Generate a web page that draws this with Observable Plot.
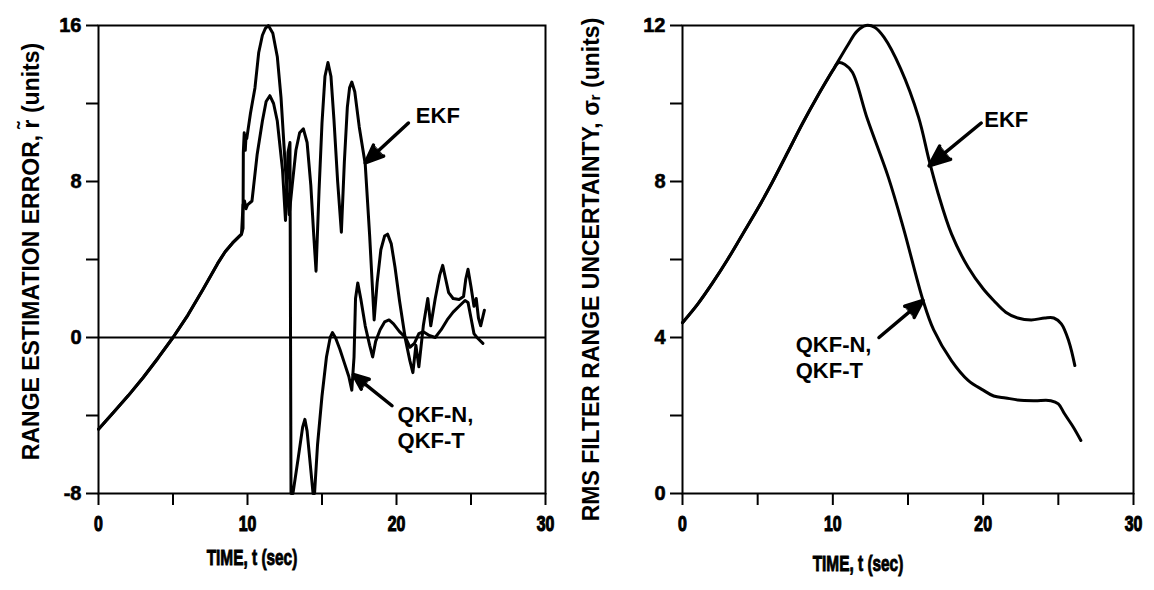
<!DOCTYPE html>
<html><head><meta charset="utf-8">
<script src="https://cdn.jsdelivr.net/npm/d3@7"></script>
<script src="https://cdn.jsdelivr.net/npm/@observablehq/plot@0.6"></script>
<style>
body{margin:0;background:#fff;}
#wrap{position:relative;width:1154px;height:590px;overflow:hidden;}
#left,#right{position:absolute;top:0;}
#left{left:0}#right{left:577px}
</style></head><body><div id="wrap"><div id="left"></div><div id="right"></div></div>
<script>
// ---- ticks ----
const timeTicks = [0, 5, 10, 15, 20, 25, 30];
const timeLabels = [0, 10, 20, 30];
const errTicks = [-8, -4, 0, 4, 8, 12, 16];
const errLabels = [-8, 0, 8, 16];
const rmsTicks = [0, 2, 4, 6, 8, 10, 12];
const rmsLabels = [0, 4, 8, 12];

// ---- left panel: range estimation error ----
const errSharedT = [0, 1, 2, 3, 4, 5, 6, 7, 8, 8.5, 9, 9.6];
const errSharedY = [-4.7, -3.85, -2.98, -2.05, -1.05, 0, 1.15, 2.45, 3.8, 4.4, 4.85, 5.3];
const errEkfT = [9.7, 9.72, 9.78, 9.85, 9.9, 9.95, 10.2, 10.5, 10.75, 11.0, 11.2, 11.4, 11.7, 12.0, 12.25, 12.55, 12.8,
  13.0, 13.25, 13.5, 13.75, 14.0, 14.25, 14.45, 14.6, 14.8, 15.0, 15.2, 15.4, 15.6, 15.8, 16.05, 16.3,
  16.5, 16.7, 16.85, 17.0, 17.2, 17.5, 17.9, 18.2, 18.5, 18.7, 18.95, 19.2, 19.4, 19.65, 19.9, 20.2, 20.6,
  20.9, 21.1, 21.3, 21.5, 21.8, 22.1, 22.3, 22.6, 22.9, 23.1, 23.3, 23.5, 23.8, 24.2, 24.5, 24.65, 24.8,
  25.0, 25.2, 25.35, 25.5, 25.65, 25.9];
const errEkfY = [5.6, 9.5, 10.5, 9.6, 10.3, 10.2, 11.5, 12.8, 14.6, 15.5, 15.85, 16.0, 15.6, 14.4, 12.3, 8.6, 6.3,
  7.8, 9.6, 10.5, 10.7, 10.0, 7.8, 5.2, 3.4, 7.5, 11.0, 13.4, 14.1, 13.4, 11.2, 8.0, 5.4,
  9.0, 11.8, 12.8, 13.1, 12.6, 10.8, 8.9, 5.2, 0.9, 2.8, 4.5, 5.2, 5.3, 4.8, 3.6, 1.9, -0.1,
  -1.2, -1.8, -0.4, -1.5, 0.6, 2.0, 0.6, 2.0, 3.2, 3.7, 3.0, 2.3, 2.0, 1.95, 2.1, 3.0, 3.5,
  2.6, 1.6, 2.0, 1.0, 0.6, 1.4];
const errQkfT = [9.7, 9.8, 9.9, 10.0, 10.3, 10.65, 11.0, 11.25, 11.5, 11.75, 12.0, 12.35, 12.55, 12.72, 12.85,
  12.92, 13.05, 13.4, 13.7, 13.85, 14.0, 14.25, 14.4, 14.5, 14.7, 15.0, 15.3, 15.55, 15.7, 15.9, 16.2, 16.5,
  16.8, 17.0, 17.15, 17.25, 17.4, 17.6, 17.9, 18.2, 18.4, 18.6, 18.9, 19.2, 19.5, 19.8, 20.2, 20.6, 20.9,
  21.2, 21.5, 21.8, 22.2, 22.6, 23.0, 23.4, 23.8, 24.2, 24.6, 24.8, 25.0, 25.2, 25.4, 25.8];
const errQkfY = [6.8, 7.0, 6.6, 6.8, 7.0, 9.4, 11.1, 12.1, 12.4, 12.0, 11.1, 8.6, 6.0, 9.5, 10.0,
  -8, -8, -6.2, -4.6, -4.2, -4.8, -6.8, -8, -8, -5.5, -3.0, -1.0, 0.0, 0.25, 0.0, -0.6, -1.3,
  -2.0, -2.7, -1.0, 2.0, 2.8, 2.0, 0.6, -0.4, -1.0, -0.2, 0.4, 0.8, 0.9, 0.7, 0.3, 0.0, -0.5,
  -0.3, 0.2, 0.3, 0.1, 0.0, 0.4, 0.9, 1.3, 1.6, 1.9, 1.8, 1.0, 0.2, 0.0, -0.3];
const errLabelText = ["EKF", "QKF-N,\nQKF-T"];
const errLabelX = [21.3, 20.07];
const errLabelY = [11.4, -4.58];
const errArrowX1 = [20.8, 19.7], errArrowY1 = [11.0, -3.5];
const errArrowX2 = [17.9, 17.1], errArrowY2 = [8.95, -1.9];

// ---- right panel: RMS filter range uncertainty ----
const rmsSharedT = [0, 1, 2, 3, 4, 5, 6, 7, 8, 9, 10];
const rmsSharedY = [4.38, 4.85, 5.4, 6.0, 6.65, 7.3, 8.0, 8.75, 9.5, 10.2, 10.85];
const rmsEkfT = [11, 11.6, 12.2, 12.8, 13.4, 14.5, 15.7, 16.4, 17.0, 17.9, 19.0, 20.0, 20.7, 21.5, 22.3, 23.2, 24.1, 24.7, 25.2, 25.7, 26.1];
const rmsEkfY = [11.5, 11.85, 12.0, 11.95, 11.7, 10.9, 9.65, 8.55, 7.7, 6.65, 5.8, 5.25, 4.95, 4.65, 4.5, 4.45, 4.5, 4.5, 4.35, 3.9, 3.28];
const rmsQkfT = [10.4, 10.8, 11.3, 12.3, 13.7, 14.7, 16.0, 16.7, 17.9, 19.0, 20.0, 20.7, 21.5, 22.3, 23.4, 24.5, 25.0, 25.4, 26.0, 26.5];
const rmsQkfY = [11.05, 11.0, 10.8, 9.6, 8.1, 6.8, 4.95, 4.2, 3.4, 2.9, 2.65, 2.5, 2.45, 2.4, 2.38, 2.38, 2.3, 2.05, 1.7, 1.36];
const rmsLabelText = ["EKF", "QKF-N,\nQKF-T"];
const rmsLabelX = [20.07, 7.53];
const rmsLabelY = [9.6, 3.5];
const rmsArrowX1 = [19.87, 13.07], rmsArrowY1 = [9.5, 4.0];
const rmsArrowX2 = [16.4, 16.0], rmsArrowY2 = [8.4, 4.95];

const yTitleErr = "RANGE ESTIMATION ERROR, r\u0303 (units)";
const yTitleRms = "RMS FILTER RANGE UNCERTAINTY, \u03c3\u1d63 (units)";
const xTitle = "TIME, t (sec)";

// ---- helpers ----
const rows = (ts, ys) => ts.map((t, i) => ({t, v: ys[i]}));
const labelRows = (txt, xs, ys) => txt.map((s, i) => ({s, x: xs[i], y: ys[i]}));
const arrowRows = (x1, y1, x2, y2) => x1.map((_, i) => ({x1: x1[i], y1: y1[i], x2: x2[i], y2: y2[i]}));
const FONT = "'Liberation Sans', Arial, Helvetica, sans-serif";

function panel(opts) {
  const marks = [
    Plot.frame({stroke: "black", strokeWidth: 2}),
    ...(opts.zero ? [Plot.ruleY([0], {stroke: "black", strokeWidth: 2})] : []),
    Plot.axisY({ticks: opts.yTicks, tickSize: 12, tickPadding: 5, strokeWidth: 2,
      tickFormat: d => opts.yLabels.includes(d) ? String(d) : "", label: null,
      fontSize: 20, fontWeight: "bold", fontFamily: FONT}),
    Plot.axisX({ticks: timeTicks, tickSize: 12, tickPadding: 10, strokeWidth: 2,
      tickFormat: d => timeLabels.includes(d) ? String(d) : "", label: null,
      fontSize: 22, fontWeight: "bold", fontFamily: FONT}),
    Plot.line(rows(opts.sharedT.concat(opts.ekfT), opts.sharedY.concat(opts.ekfY)),
      {x: "t", y: "v", stroke: "black", strokeWidth: 3, strokeLinejoin: "round", curve: opts.curve}),
    Plot.line(rows(opts.sharedT.concat(opts.qkfT), opts.sharedY.concat(opts.qkfY)),
      {x: "t", y: "v", stroke: "black", strokeWidth: 3, strokeLinejoin: "round", curve: opts.curve}),
    Plot.arrow(arrowRows(...opts.arrows), {x1: "x1", y1: "y1", x2: "x2", y2: "y2",
      stroke: "black", strokeWidth: 3.5, headLength: 16, headAngle: 45}),
    Plot.text(labelRows(...opts.labels), {x: "x", y: "y", text: "s", textAnchor: "start",
      fontSize: 22, fontWeight: "bold", fontFamily: FONT, lineHeight: 1.15, fill: "black"}),
    Plot.text([opts.yTitle], {frameAnchor: "left", textAnchor: "middle", rotate: -90,
      dx: opts.yTitleDx, dy: opts.yTitleDy,
      fontSize: 23, fontWeight: "bold", fontFamily: FONT, fill: "black"}),
    Plot.text([xTitle], {frameAnchor: "bottom", dx: opts.xTitleDx, dy: opts.xTitleDy,
      fontSize: 22, fontWeight: "bold", fontFamily: FONT, fill: "black"})
  ];
  const svg = Plot.plot({
    width: 577, height: 590,
    marginLeft: opts.ml, marginRight: opts.mr, marginTop: 25, marginBottom: 97,
    x: {domain: [0, 30]},
    y: {domain: opts.yDomain},
    style: {background: "white", color: "black", fontFamily: FONT, overflow: "visible"},
    marks
  });
  const heavy = (t, size, sw) => {
    t.setAttribute("font-family", FONT);
    t.setAttribute("font-weight", "bold");
    t.setAttribute("font-size", size);
    t.setAttribute("fill", "black");
    t.setAttribute("stroke", "black");
    t.setAttribute("stroke-width", sw);
  };
  // condensed look for the time-axis texts (horizontal squeeze around each text's own anchor)
  const squeeze = (t, k) => {
    const xs = t.getAttribute("x");
    const cx = xs != null && !isNaN(+xs) ? +xs : 0;
    const tr = t.getAttribute("transform") || "";
    t.setAttribute("transform", `${tr} translate(${cx},0) scale(${k},1) translate(${-cx},0)`);
  };
  svg.querySelectorAll('g[aria-label="y-axis tick label"] text').forEach(t => heavy(t, 20, 0.6));
  svg.querySelectorAll('g[aria-label="x-axis tick label"] text').forEach(t => { heavy(t, 22, 1.2); squeeze(t, 0.72); });
  svg.querySelectorAll("text").forEach(t => {
    if (t.textContent === xTitle) { heavy(t, 22, 0.9); squeeze(t, 0.7); }
  });
  // solid arrow heads
  svg.querySelectorAll('g[aria-label="arrow"] path').forEach(p => {
    const n = (p.getAttribute("d").match(/-?\d+(\.\d+)?(e-?\d+)?/g) || []).map(Number);
    if (n.length >= 10) {
      const [ , , x2, y2, hx1, hy1, , , hx2, hy2] = n;
      const tri = document.createElementNS("http://www.w3.org/2000/svg", "path");
      tri.setAttribute("d", `M${hx1},${hy1}L${x2},${y2}L${hx2},${hy2}Z`);
      tri.setAttribute("fill", "black");
      tri.setAttribute("stroke", "black");
      tri.setAttribute("stroke-width", "1");
      p.parentNode.appendChild(tri);
    }
  });
  return svg;
}

const left = panel({
  ml: 98, mr: 32, yDomain: [-8, 16], yTicks: errTicks, yLabels: errLabels, zero: true,
  sharedT: errSharedT, sharedY: errSharedY, ekfT: errEkfT, ekfY: errEkfY, qkfT: errQkfT, qkfY: errQkfY,
  curve: "linear",
  arrows: [errArrowX1, errArrowY1, errArrowX2, errArrowY2],
  labels: [errLabelText, errLabelX, errLabelY],
  yTitle: yTitleErr, yTitleDx: -67, yTitleDy: -8,
  xTitleDx: -70, xTitleDy: 71
});
const right = panel({
  ml: 105, mr: 21, yDomain: [0, 12], yTicks: rmsTicks, yLabels: rmsLabels, zero: false,
  sharedT: rmsSharedT, sharedY: rmsSharedY, ekfT: rmsEkfT, ekfY: rmsEkfY, qkfT: rmsQkfT, qkfY: rmsQkfY,
  curve: "catmull-rom",
  arrows: [rmsArrowX1, rmsArrowY1, rmsArrowX2, rmsArrowY2],
  labels: [rmsLabelText, rmsLabelX, rmsLabelY],
  yTitle: yTitleRms, yTitleDx: -91, yTitleDy: 10,
  xTitleDx: -50, xTitleDy: 77
});
document.getElementById("left").appendChild(left);
document.getElementById("right").appendChild(right);
</script></body></html>
